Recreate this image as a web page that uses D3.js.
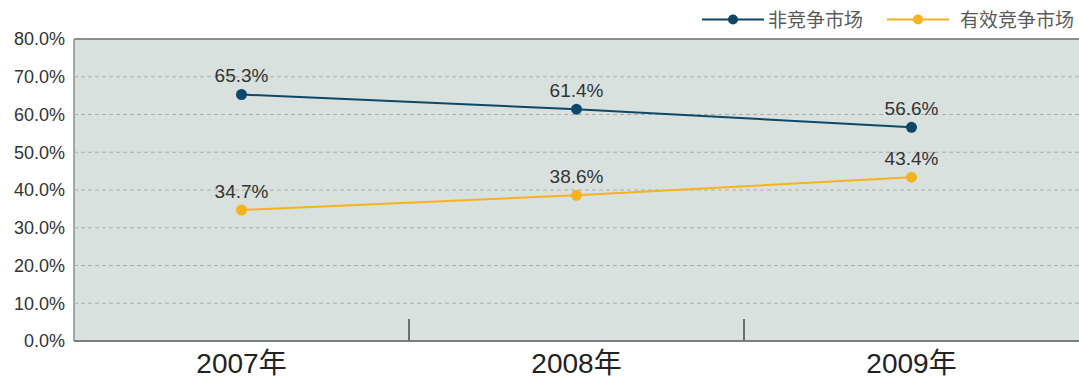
<!DOCTYPE html>
<html>
<head>
<meta charset="utf-8">
<script src="https://cdn.jsdelivr.net/npm/d3@7"></script>
<style>
  html, body { margin: 0; padding: 0; background: #fff; }
  svg { display: block; }
</style>
</head>
<body>
<svg id="chart" width="1079" height="378"></svg>
<script>
// Market share by year: non-competitive vs. effectively competitive markets
const years = ["2007年", "2008年", "2009年"];
const nonCompetitive = [65.3, 61.4, 56.6];
const competitive = [34.7, 38.6, 43.4];
const seriesNames = ["非竞争市场", "有效竞争市场"];
const yTicks = [0, 10, 20, 30, 40, 50, 60, 70, 80];

const colors = ["#0e4767", "#f6b21c"];
const font = "Arial, 'Liberation Sans', 'Noto Sans CJK SC', sans-serif";

const svg = d3.select("#chart");
const margin = { left: 74, top: 39, right: 0, bottom: 37 };
const W = 1079, H = 378;
const plotW = W - margin.left - margin.right;
const plotH = H - margin.top - margin.bottom;

const x = d3.scaleBand().domain(years).range([margin.left, margin.left + plotW]);
const y = d3.scaleLinear().domain([0, 80]).range([margin.top + plotH, margin.top]);

// plot background
svg.append("rect")
  .attr("x", margin.left).attr("y", margin.top)
  .attr("width", plotW).attr("height", plotH)
  .attr("fill", "#d9e1de");

// top border and left edge
svg.append("line")
  .attr("x1", margin.left).attr("x2", W)
  .attr("y1", margin.top).attr("y2", margin.top)
  .attr("stroke", "#8a8f8d").attr("stroke-width", 2);
svg.append("line")
  .attr("x1", margin.left).attr("x2", margin.left)
  .attr("y1", margin.top).attr("y2", margin.top + plotH)
  .attr("stroke", "#8a8f8d").attr("stroke-width", 1.5);

// dashed gridlines
svg.append("g").selectAll("line")
  .data(yTicks.filter(d => d > 0 && d < 80))
  .join("line")
  .attr("x1", margin.left).attr("x2", W)
  .attr("y1", d => y(d)).attr("y2", d => y(d))
  .attr("stroke", "#a9aeac").attr("stroke-width", 1)
  .attr("stroke-dasharray", "4,3");

// y axis labels
const yAxis = d3.axisLeft(y).tickValues(yTicks).tickSize(0).tickPadding(9)
  .tickFormat(d => d.toFixed(1) + "%");
const gy = svg.append("g").attr("transform", `translate(${margin.left},0)`).call(yAxis);
gy.select(".domain").remove();
gy.selectAll("text")
  .attr("font-family", font).attr("font-size", 18).attr("fill", "#333");

// x axis
const xAxis = d3.axisBottom(x).tickSize(0).tickPadding(12);
const gx = svg.append("g").attr("transform", `translate(0,${margin.top + plotH})`).call(xAxis);
gx.select(".domain").attr("stroke", "#7b7f7e").attr("stroke-width", 2)
  .attr("d", `M${margin.left},0H${W}`);
gx.selectAll("text")
  .attr("font-family", font).attr("font-size", 28).attr("fill", "#222");

// category dividers
svg.append("g").selectAll("line")
  .data(years.slice(1))
  .join("line")
  .attr("x1", d => x(d)).attr("x2", d => x(d))
  .attr("y1", y(0)).attr("y2", y(0) - 22)
  .attr("stroke", "#6a6e6d").attr("stroke-width", 2);

// series
const series = [nonCompetitive, competitive];
const line = d3.line().x((d, i) => x(years[i]) + x.bandwidth() / 2).y(d => y(d));

series.forEach((vals, si) => {
  const g = svg.append("g");
  g.append("path").datum(vals)
    .attr("d", line).attr("fill", "none")
    .attr("stroke", colors[si]).attr("stroke-width", 2);
  g.selectAll("circle").data(vals).join("circle")
    .attr("cx", (d, i) => x(years[i]) + x.bandwidth() / 2)
    .attr("cy", d => y(d)).attr("r", 5.5)
    .attr("fill", colors[si]);
  g.selectAll("text").data(vals).join("text")
    .attr("x", (d, i) => x(years[i]) + x.bandwidth() / 2)
    .attr("y", d => y(d) - 12)
    .attr("text-anchor", "middle")
    .attr("font-family", font).attr("font-size", 19).attr("fill", "#333")
    .text(d => d.toFixed(1) + "%");
});

// legend
const legendItems = [
  { x: 702, textX: 768, name: seriesNames[0], color: colors[0] },
  { x: 887, textX: 960, name: seriesNames[1], color: colors[1] }
];
const lg = svg.append("g");
legendItems.forEach(it => {
  lg.append("line")
    .attr("x1", it.x).attr("x2", it.x + 62)
    .attr("y1", 19.5).attr("y2", 19.5)
    .attr("stroke", it.color).attr("stroke-width", 2);
  lg.append("circle")
    .attr("cx", it.x + 31).attr("cy", 19.5).attr("r", 5)
    .attr("fill", it.color);
  lg.append("text")
    .attr("x", it.textX).attr("y", 27)
    .attr("font-family", "'Noto Sans CJK SC', sans-serif")
    .attr("font-size", 19).attr("fill", "#5a5a5a")
    .text(it.name);
});
</script>
</body>
</html>
